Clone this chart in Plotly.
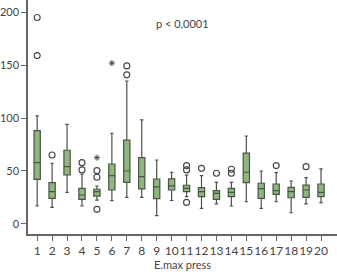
import plotly.graph_objects as go

groups = list(range(1, 21))
q1 =      [42.0, 24.0, 46.1, 23.1, 26.2, 31.9, 39.2, 32.9, 23.7, 31.9, 30.3, 25.6, 23.1, 25.6, 38.8, 24.0, 27.8, 24.6, 25.0, 25.6]
median =  [57.8, 30.3, 54.0, 27.2, 30.3, 45.5, 49.9, 44.5, 34.8, 35.8, 33.5, 30.3, 28.8, 29.7, 48.7, 33.2, 31.3, 30.3, 31.9, 29.7]
q3 =      [88.0, 38.8, 69.5, 33.5, 32.6, 56.5, 79.0, 62.5, 42.3, 42.5, 36.4, 34.1, 31.3, 33.5, 66.7, 38.3, 37.6, 34.4, 36.6, 37.6]
lowf =    [16.8, 15.5, 29.7, 16.8, 22.4, 21.8, 25.0, 25.0, 7.6, 22.0, 25.6, 14.6, 18.7, 16.8, 20.8, 14.6, 20.8, 10.4, 18.7, 19.9]
upf =     [102.0, 57.2, 94.0, 46.8, 35.7, 85.6, 135.0, 98.2, 60.3, 48.7, 46.0, 45.5, 39.2, 39.2, 83.0, 49.9, 48.3, 40.4, 43.6, 51.8]

out_x = [1, 1, 2, 4, 4, 5, 5, 5, 7, 7, 11, 11, 11, 12, 13, 14, 14, 17, 19]
out_y = [195, 159, 65, 57.8, 50.9, 50.2, 43.9, 13.6, 149.3, 140.8, 55.0, 50.9, 20.2, 52.4, 47.7, 51.5, 47.7, 55.0, 54.0]
ext_x = [5, 6]
ext_y = [62.5, 151.9]

fig = go.Figure()
fig.add_trace(go.Box(
    x=groups, q1=q1, median=median, q3=q3, lowerfence=lowf, upperfence=upf,
    width=0.42, whiskerwidth=0.55, fillcolor="#8fb67f",
    line=dict(color="#4a5446", width=1.2), boxpoints=False, showlegend=False,
))
fig.add_trace(go.Scatter(
    x=out_x, y=out_y, mode="markers", showlegend=False,
    marker=dict(symbol="circle-open", size=6, color="#444", line=dict(width=1.1, color="#444")),
))
fig.add_trace(go.Scatter(
    x=ext_x, y=ext_y, mode="markers", showlegend=False,
    marker=dict(symbol="asterisk-open", size=5, color="#444", line=dict(width=1, color="#444")),
))

font = "Lato, Open Sans, sans-serif"
fig.update_layout(
    width=337, height=276, margin=dict(l=28, r=0, t=0, b=42),
    paper_bgcolor="white", plot_bgcolor="white",
    font=dict(family=font, size=12, color="#444"),
    xaxis=dict(range=[0.386, 21.07], tickvals=groups, ticktext=[str(g) for g in groups],
               tickangle=0,
               showline=True, linecolor="#666", linewidth=1.5, showgrid=False, zeroline=False,
               ticks="outside", ticklen=5, tickcolor="#666",
               title=dict(text="E.max press", font=dict(size=11, color="#444"), standoff=4),
               tickfont=dict(size=12, color="#444")),
    yaxis=dict(range=[-9.7, 211.6], tickvals=[0, 50, 100, 150, 200],
               showline=True, linecolor="#666", linewidth=1.5, showgrid=False, zeroline=False,
               ticks="outside", ticklen=5, tickcolor="#666",
               tickfont=dict(size=11, color="#444")),
    annotations=[dict(text="p < 0,0001", x=0.5, y=0.935, xref="paper", yref="paper",
                      showarrow=False, font=dict(size=11, color="#444"))],
)
fig.write_html("out.html")
